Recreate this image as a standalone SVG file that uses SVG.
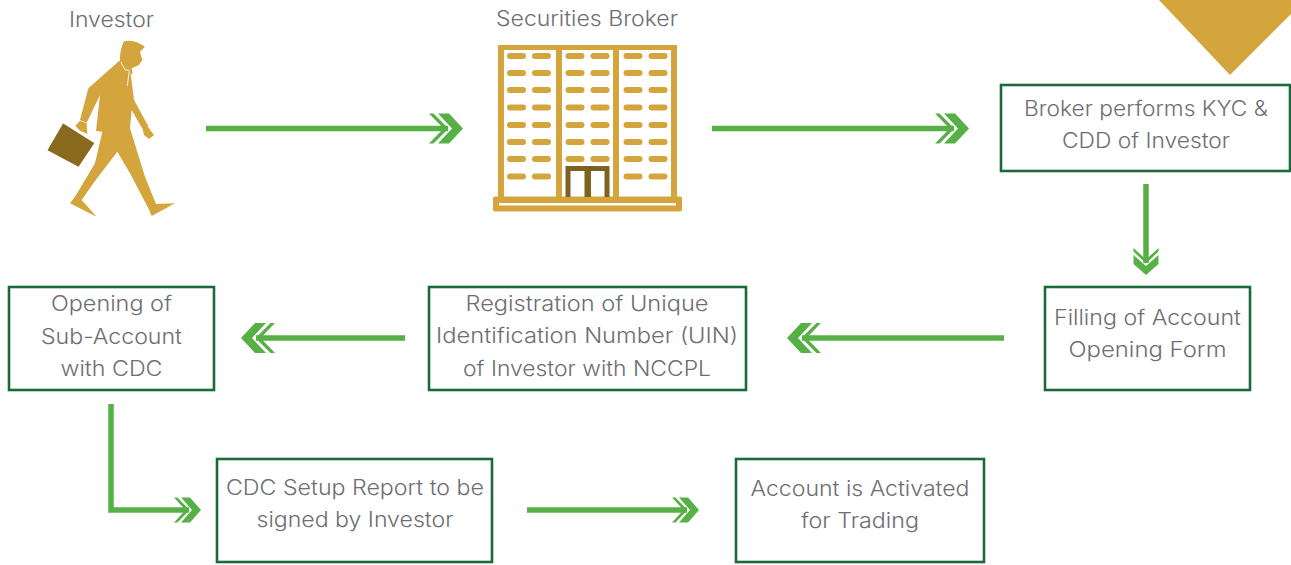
<svg xmlns="http://www.w3.org/2000/svg" width="1291" height="565" viewBox="0 0 1291 565">
<style>
text{font-family:"Inter","Liberation Sans",sans-serif;font-size:21px;fill:#6d6e71;text-anchor:middle;font-weight:300}
.box{fill:#fff;stroke:#1b6b3a;stroke-width:2.600}
.gold{fill:#d3a53c}
.brown{fill:#8a6a1e}
.conn{fill:none;stroke:#56b046;stroke-width:5.5}
.win{fill:#d3a53c}
</style>
<defs>
<marker id="hd" markerUnits="userSpaceOnUse" markerWidth="36" markerHeight="34" viewBox="-35 -17 36 34" refX="-15" refY="0" orient="auto">
<path d="M-34-15H-29.500L-14.500 0-29.500 15H-34L-19.500 0ZM-25-15H-14L0 0-14 15H-25L-11 0Z" fill="#56b046"/>
</marker>
<marker id="hs" markerUnits="userSpaceOnUse" markerWidth="29" markerHeight="28" viewBox="-28 -14 29 28" refX="-12" refY="0" orient="auto">
<path d="M-27-12.500H-23.500L-11.500 0-23.500 12.500H-27L-15.500 0ZM-20-12.500H-11L0 0-11 12.500H-20L-9 0Z" fill="#56b046"/>
</marker>
<g id="w2"><rect x="0" width="19" height="6" rx="3" class="win"/><rect x="25" width="19" height="6" rx="3" class="win"/></g>
</defs>
<rect width="1291" height="565" fill="#fff"/>
<polygon id="corner" points="1159,0 1291,0 1291,14 1230,75" class="gold"/>
<g id="connectors">
<path class="conn" marker-end="url(#hd)" d="M206 128.500H448"/>
<path class="conn" marker-end="url(#hd)" d="M712 128.500H954"/>
<path class="conn" marker-end="url(#hs)" d="M1146 184V263"/>
<path class="conn" marker-end="url(#hd)" d="M1004 338H802"/>
<path class="conn" marker-end="url(#hd)" d="M405 338H256"/>
<path class="conn" marker-end="url(#hs)" d="M111 404V510H189"/>
<path class="conn" marker-end="url(#hs)" d="M527 510H687"/>
</g>
<g id="investor">
<text x="111.500" y="27" textLength="85" lengthAdjust="spacingAndGlyphs">Investor</text>
<g transform="translate(30 0) scale(.3333)">
<path class="gold" d="M282 124Q312 116 345 140L330 155 337 180 327 195 305 205 308 225 270 190Q268 150 282 124Z"/>
<path class="gold" d="M268 182 300 205 312 300 355 378 338 388 305 330 300 385 345 530 378 612 435 610 365 648 355 625 300 520 262 455 190 550 155 600 200 650 120 610 135 590 195 490 217 395 198 393 210 285 170 368 150 360 175 265Z"/>
<path class="gold" d="M338 388 352 378 372 405 357 417 342 405Z"/>
<path d="M272 186 286 210H298M298 212 292 258" fill="none" stroke="#fff" stroke-width="2.500"/>
<polygon points="150,362 170,370 172,402 150,392 136,378" class="gold"/>
<path class="brown" d="M100 373 190 430 145 498 55 450Z" stroke="#8a6a1e" stroke-width="4" stroke-linejoin="round"/>
</g>
</g>
<g id="broker">
<text x="587" y="26" textLength="182" lengthAdjust="spacingAndGlyphs">Securities Broker</text>
<g class="gold">
<rect x="498" y="45" width="179" height="5"/>
<rect x="498" y="45" width="6" height="155"/><rect x="556" y="45" width="6" height="155"/><rect x="613" y="45" width="6" height="155"/><rect x="671" y="45" width="6" height="155"/>
</g>
<path fill="#d3a53c" fill-rule="evenodd" d="M495 196.500H680a2 2 0 0 1 2 2V209.500a2 2 0 0 1-2 2H495a2 2 0 0 1-2-2V198.500a2 2 0 0 1 2-2ZM499 203V205.500H676V203Z"/>
<use href="#w2" x="507" y="53"/><use href="#w2" x="565.500" y="53"/><use href="#w2" x="623.500" y="53"/>
<use href="#w2" x="507" y="70"/><use href="#w2" x="565.500" y="70"/><use href="#w2" x="623.500" y="70"/>
<use href="#w2" x="507" y="87"/><use href="#w2" x="565.500" y="87"/><use href="#w2" x="623.500" y="87"/>
<use href="#w2" x="507" y="104.500"/><use href="#w2" x="565.500" y="104.500"/><use href="#w2" x="623.500" y="104.500"/>
<use href="#w2" x="507" y="122"/><use href="#w2" x="565.500" y="122"/><use href="#w2" x="623.500" y="122"/>
<use href="#w2" x="507" y="139"/><use href="#w2" x="565.500" y="139"/><use href="#w2" x="623.500" y="139"/>
<use href="#w2" x="507" y="156"/><use href="#w2" x="565.500" y="156"/><use href="#w2" x="623.500" y="156"/>
<use href="#w2" x="507" y="173.500"/><use href="#w2" x="623.500" y="173.500"/>
<path d="M568 197V168.500H607V197" fill="none" stroke="#7d6220" stroke-width="5"/>
<rect x="584.500" y="168.500" width="6.500" height="28.500" fill="#7d6220"/>
</g>
<g id="kyc"><rect class="box" x="1001" y="85" width="289" height="86"/>
<text x="1146" y="116" textLength="244" lengthAdjust="spacingAndGlyphs">Broker performs KYC &amp;</text>
<text x="1146" y="148" textLength="168" lengthAdjust="spacingAndGlyphs">CDD of Investor</text></g>
<g id="form"><rect class="box" x="1045" y="287" width="205" height="103"/>
<text x="1147.500" y="325" textLength="187" lengthAdjust="spacingAndGlyphs">Filling of Account</text>
<text x="1147.500" y="357" textLength="158" lengthAdjust="spacingAndGlyphs">Opening Form</text></g>
<g id="uin"><rect class="box" x="429" y="287" width="317" height="103"/>
<text x="587" y="311" textLength="243" lengthAdjust="spacingAndGlyphs">Registration of Unique</text>
<text x="587" y="343" textLength="302" lengthAdjust="spacingAndGlyphs">Identification Number (UIN)</text>
<text x="587" y="376" textLength="248" lengthAdjust="spacingAndGlyphs">of Investor with NCCPL</text></g>
<g id="sub"><rect class="box" x="9" y="287" width="205" height="103"/>
<text x="111.500" y="311" textLength="121" lengthAdjust="spacingAndGlyphs">Opening of</text>
<text x="111.500" y="344" textLength="141" lengthAdjust="spacingAndGlyphs">Sub-Account</text>
<text x="111.500" y="376" textLength="102" lengthAdjust="spacingAndGlyphs">with CDC</text></g>
<g id="report"><rect class="box" x="217" y="459" width="275" height="103"/>
<text x="355" y="495" textLength="258" lengthAdjust="spacingAndGlyphs">CDC Setup Report to be</text>
<text x="355" y="527" textLength="197" lengthAdjust="spacingAndGlyphs">signed by Investor</text></g>
<g id="active"><rect class="box" x="736" y="459" width="248" height="103"/>
<text x="860" y="496" textLength="219" lengthAdjust="spacingAndGlyphs">Account is Activated</text>
<text x="860" y="528" textLength="118" lengthAdjust="spacingAndGlyphs">for Trading</text></g>
</svg>
